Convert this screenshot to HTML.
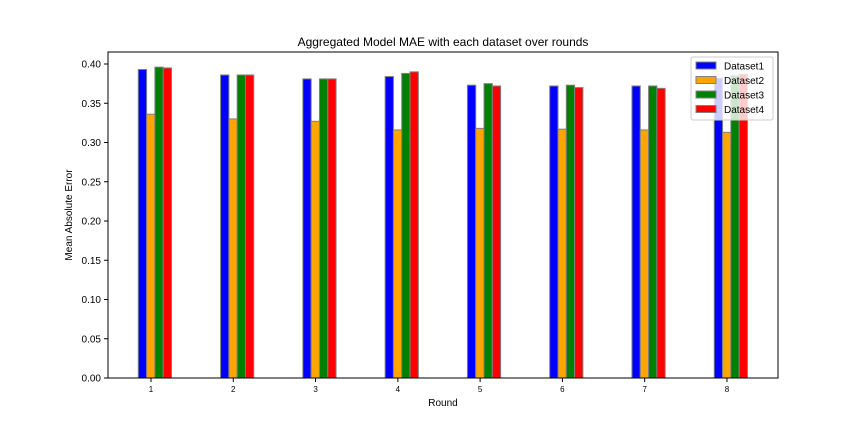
<!DOCTYPE html>
<html><head><meta charset="utf-8"><style>
body{margin:0;background:#fff;font-family:"Liberation Sans","DejaVu Sans",sans-serif}
</style></head><body>
<svg width="864" height="432" xmlns="http://www.w3.org/2000/svg">
<rect width="864" height="432" fill="#fff"/>
<text x="443" y="46" font-size="12" text-anchor="middle">Aggregated Model MAE with each dataset over rounds</text>
<g id="bars"></g>
<rect x="108" y="52" width="670" height="326" fill="none" stroke="#000" stroke-width="1"/>
<g id="yaxis" font-size="10"></g>
<g id="xaxis" font-size="8"></g>
<text x="443" y="406" font-size="10" text-anchor="middle">Round</text>
<text transform="translate(72,215) rotate(-90)" font-size="10" text-anchor="middle">Mean Absolute Error</text>
<g id="legend">
<rect x="691" y="57" width="82" height="63" rx="2" fill="#fff" fill-opacity="0.8" stroke="#ccc"/>
</g>
</svg>
<script>
const rounds=[1,2,3,4,5,6,7,8];
const d1=[0.393,0.386,0.381,0.384,0.373,0.372,0.372,0.382];
const d2=[0.336,0.330,0.327,0.316,0.318,0.317,0.316,0.313];
const d3=[0.396,0.386,0.381,0.388,0.375,0.373,0.372,0.385];
const d4=[0.395,0.386,0.381,0.390,0.372,0.370,0.369,0.387];
const names=["Dataset1","Dataset2","Dataset3","Dataset4"];
const colors=["#0000ff","#ffa500","#008000","#ff0000"];
const yTicks=[0,0.05,0.10,0.15,0.20,0.25,0.30,0.35,0.40];
const NS="http://www.w3.org/2000/svg";
const xs=r=>151+(r-1)*82.28;
const ys=v=>378-v*785;
const bw=8.3;
const bars=document.getElementById('bars');
[d1,d2,d3,d4].forEach((s,k)=>{
  s.forEach((v,i)=>{
    const r=document.createElementNS(NS,'rect');
    r.setAttribute('x',xs(rounds[i])-12.7+k*bw);
    r.setAttribute('y',ys(v));
    r.setAttribute('width',bw);
    r.setAttribute('height',378-ys(v));
    r.setAttribute('fill',colors[k]);
    r.setAttribute('stroke','#808080');
    r.setAttribute('stroke-width','1');
    
    
    bars.appendChild(r);
  });
});
const ya=document.getElementById('yaxis');
yTicks.forEach(t=>{
  const y=ys(t);
  const l=document.createElementNS(NS,'line');
  l.setAttribute('x1',104);l.setAttribute('x2',108);l.setAttribute('y1',y);l.setAttribute('y2',y);l.setAttribute('stroke','#000');
  ya.appendChild(l);
  const tx=document.createElementNS(NS,'text');
  tx.setAttribute('x',101);tx.setAttribute('y',y+3.5);tx.setAttribute('text-anchor','end');
  tx.textContent=t.toFixed(2);
  
  
  ya.appendChild(tx);
});
const xa=document.getElementById('xaxis');
rounds.forEach(r=>{
  const x=xs(r);
  const l=document.createElementNS(NS,'line');
  l.setAttribute('x1',x);l.setAttribute('x2',x);l.setAttribute('y1',378);l.setAttribute('y2',382);l.setAttribute('stroke','#000');
  xa.appendChild(l);
  const tx=document.createElementNS(NS,'text');
  tx.setAttribute('x',x);tx.setAttribute('y',392);tx.setAttribute('text-anchor','middle');
  tx.textContent=r;
  
  
  xa.appendChild(tx);
});
const lg=document.getElementById('legend');
names.forEach((n,k)=>{
  const y=62+k*14.5;
  const r=document.createElementNS(NS,'rect');
  r.setAttribute('x',696);r.setAttribute('y',y);r.setAttribute('width',20);r.setAttribute('height',7);
  r.setAttribute('fill',colors[k]);r.setAttribute('stroke','#808080');
  
  
  lg.appendChild(r);
  const t=document.createElementNS(NS,'text');
  t.setAttribute('x',724);t.setAttribute('y',y+7.5);t.setAttribute('font-size','10');
  t.textContent=n;
  
  
  lg.appendChild(t);
});
</script>
</body></html>
